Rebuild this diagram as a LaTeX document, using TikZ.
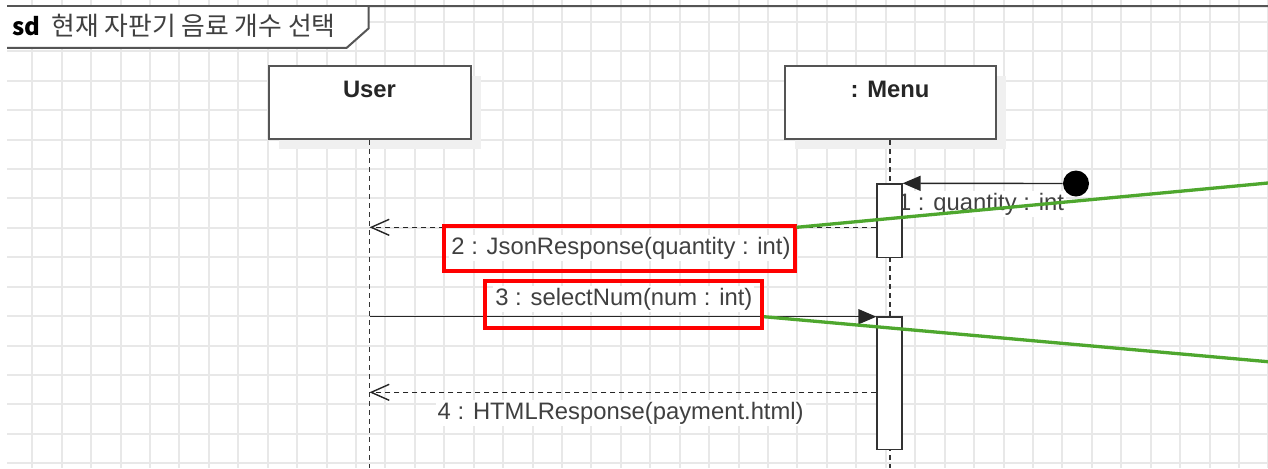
\documentclass[tikz,border=0pt]{standalone}
\usepackage{fontspec}
\setmainfont{Liberation Sans}
\newfontfamily\krfont{Noto Sans CJK KR}
\usetikzlibrary{arrows.meta, shadows}
\definecolor{gridgray}{RGB}{232,232,232}
\definecolor{boxgray}{RGB}{85,85,85}
\definecolor{textgray}{RGB}{64,64,64}
\definecolor{markred}{RGB}{255,0,0}
\definecolor{markgreen}{RGB}{78,167,46}

\begin{document}
\begin{tikzpicture}[
  x=0.5pt, y=-0.5pt,
  gridline/.style={gridgray, line width=1pt},
  framebox/.style={draw=boxgray, line width=1pt},
  lifebox/.style={rectangle, draw=boxgray, fill=white, line width=1pt, minimum height=36.5pt, inner sep=0pt, drop shadow={shadow xshift=5pt, shadow yshift=-5pt, fill=black!6, opacity=1}},
  headtext/.style={font=\fontsize{11.9}{14}\selectfont\bfseries, text=black!85, inner sep=0pt},
  lifeline/.style={dash pattern=on 2.25pt off 2.25pt, line width=0.9pt, black!80},
  actbar/.style={rectangle, draw=black!80, fill=white, line width=0.75pt, minimum width=12.35pt, inner sep=0pt},
  syncmsg/.style={-{Triangle[length=9pt, width=7.5pt]}, line width=0.7pt, black!85},
  returnmsg/.style={-{Straight Barb[length=9pt, width=8pt]}, dash pattern=on 2.5pt off 2pt, line width=0.7pt, black!85},
  msglabel/.style={font=\fontsize{11.9}{14}\selectfont, text=textgray, fill=white, inner sep=1pt},
  redmark/.style={rectangle, draw=markred, line width=2pt, inner sep=0pt},
  greenmark/.style={markgreen, line width=1.65pt}
]
  \useasboundingbox (0,0) rectangle (1268,468);
  \fill[white] (0,0) rectangle (1268,468);

  % grid
  \foreach \i in {0,...,42}
    \draw[gridline] ({32.3+29.43*\i},0) -- ({32.3+29.43*\i},468);
  \foreach \j in {0,...,15}
    \draw[gridline] (7,{21.8+29.43*\j}) -- (1268,{21.8+29.43*\j});

  % frame and title tab
  \path[fill=white] (7,6.2) -- (368.7,6.2) -- (368.7,28.3) -- (346.7,47.8) -- (7,47.8) -- cycle;
  \draw[framebox] (1268,6.2) -- (368.7,6.2) -- (368.7,28.3) -- (346.7,47.8) -- (7,47.8);
  \draw[framebox] (368.7,6.2) -- (7,6.2);
  \node[anchor=base west, inner sep=0pt, font=\krfont\fontsize{12}{14}\selectfont] (title) at (12,35)
    {{\bfseries sd}\hspace{5.5pt}\textcolor{textgray}{\fontsize{12.9}{14}\selectfont 현재 자판기 음료 개수 선택}};

  % lifelines
  \node[lifebox, minimum width=101pt] (user) at (369.5,102.5) {};
  \node[headtext, anchor=base] (usertext) at (369.5,97.5) {User};
  \node[lifebox, minimum width=105.5pt] (menu) at (890,102.5) {};
  \node[headtext, anchor=base] (menutext) at (890,97.5) {: Menu};
  \coordinate (userend) at (369.5,468);
  \coordinate (menuend) at (890,468);
  \draw[lifeline] (user.south) -- (userend);
  \draw[lifeline] (menu.south) -- (menuend);

  % message labels
  \node[msglabel, anchor=base] (m1label) at (981,210) {1 : quantity : int};
  \node[msglabel, anchor=base] (m2label) at (621,254.3) {2 : JsonResponse(quantity : int)};
  \node[msglabel, anchor=base] (m3label) at (623.9,305) {3 : selectNum(num : int)};
  \node[msglabel, anchor=base] (m4label) at (620.7,419) {4 : HTMLResponse(payment.html)};

  % activation bars
  \node[actbar, minimum height=36.75pt] (bar1) at (889.5,220.8) {};
  \node[actbar, minimum height=66.15pt] (bar2) at (889.5,383.2) {};

  % messages
  \node[circle, fill=black, minimum size=13pt, inner sep=0pt] (found) at (1076,183.5) {};
  \coordinate (m2u) at (369.5,227.3);
  \coordinate (m3u) at (369.5,316.7);
  \coordinate (m4u) at (369.5,392.3);
  \draw[syncmsg] (found) -- (bar1.north east);
  \draw[returnmsg] (bar1.west |- m2u) -- (m2u);
  \draw[syncmsg] (m3u) -- (bar2.west |- m3u);
  \draw[returnmsg] (bar2.west |- m4u) -- (m4u);

  % annotations
  \node[redmark, minimum width=175.25pt, minimum height=22.5pt] (jsonmark) at (619.25,248.8) {};
  \node[redmark, minimum width=138.35pt, minimum height=23.35pt] (selmark) at (623.65,304.65) {};
  \coordinate (g1end) at (1268,183);
  \coordinate (g2end) at (1268,361.7);
  \draw[greenmark] ([yshift=-1.5pt]jsonmark.north east) -- (g1end);
  \draw[greenmark] (selmark.east |- m3u) -- (g2end);
\end{tikzpicture}
\end{document}
